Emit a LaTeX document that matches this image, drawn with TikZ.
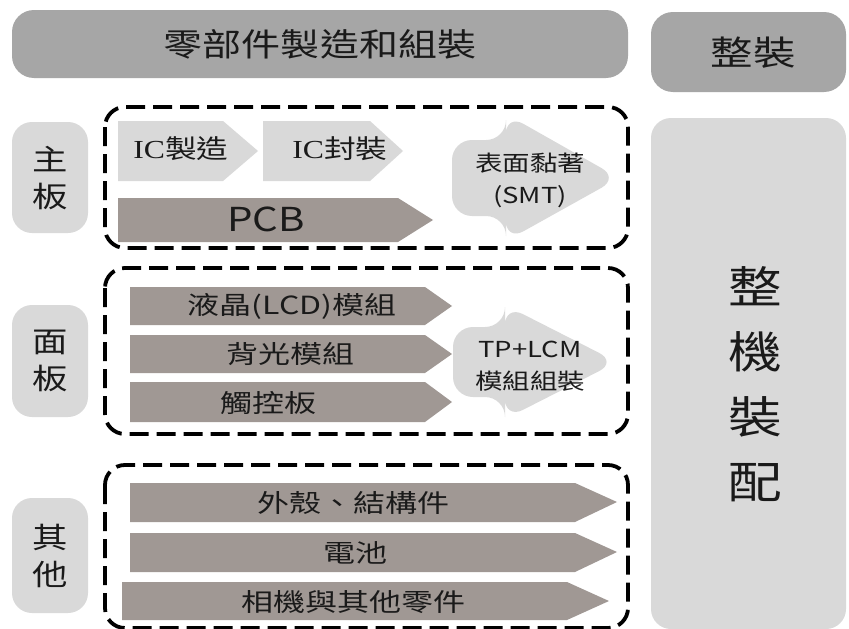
\documentclass[tikz,border=0pt]{standalone}
\usepackage{fontspec}
\setmainfont{Noto Sans CJK TC}
\newfontfamily\icfont{Liberation Serif}
\usepackage{graphicx}
\newcommand\sx[2][1.22]{\scalebox{#1}[1]{#2}}
\definecolor{bannergray}{HTML}{A6A6A6}
\definecolor{lightgray}{HTML}{D9D9D9}
\definecolor{bargray}{HTML}{A09894}
\definecolor{txt}{HTML}{1A1A1A}
\begin{document}
\begin{tikzpicture}[x=1pt,y=-1pt,
  txtnode/.style={text=txt,inner sep=0pt,align=center},
  fs/.style={font=\fontsize{#1}{#1}\selectfont},
  lightbox/.style={fill=lightgray,rounded corners=20},
  lightarrow/.style={fill=lightgray},
  bararrow/.style={fill=bargray},
  dashbox/.style={draw=black,line width=3.8pt,dash pattern=on 19pt off 8pt,rounded corners=20}]
\useasboundingbox (0,0) rectangle (849,629);
\fill[white] (0,0) rectangle (849,629);

% top headers
\fill[bannergray,rounded corners=22] (12,10) rectangle (628,78);
\node[txtnode,fs=32] (banner) at (320,44) {\sx{零部件製造和組裝}};
\fill[bannergray,rounded corners=22] (651,12) rectangle (846,92);
\node[txtnode,fs=34] (zhengzhuang) at (753,53) {\sx[1.25]{整裝}};

% right big box
\fill[lightbox] (651,118) rectangle (846,629);
\node[txtnode,fs=44,align=center] (final) at (755,384) {\sx{整}\\[21pt]\sx{機}\\[21pt]\sx{裝}\\[21pt]\sx{配}};

% left labels
\fill[lightbox] (12,122) rectangle (88,233);
\node[txtnode,fs=29] (lmain) at (50,178) {\sx{主}\\[8pt]\sx{板}};
\fill[lightbox] (12,305) rectangle (88,417);
\node[txtnode,fs=29] (lpanel) at (50,361) {\sx{面}\\[8pt]\sx{板}};
\fill[lightbox] (12,498) rectangle (88,613);
\node[txtnode,fs=29] (lother) at (50,556) {\sx{其}\\[8pt]\sx{他}};

% box 1
\draw[dashbox] (105,107) rectangle (628,248);
\fill[lightarrow] (118,121) -- (223,121) -- (258,151) -- (223,181) -- (118,181) -- cycle;
\node[txtnode,fs=26] (icmfg) at (181,149) {\sx{{\icfont IC}製造}};
\fill[lightarrow] (263,121) -- (370,121) -- (403,151) -- (370,181) -- (263,181) -- cycle;
\node[txtnode,fs=26] (icpkg) at (340,149) {\sx{{\icfont IC}封裝}};
\fill[bararrow] (118,198) -- (398,198) -- (433,220) -- (398,242) -- (118,242) -- cycle;
\node[txtnode,fs=33] (pcb) at (266,219) {\sx{PCB}};
\fill[lightarrow,rounded corners=20] (452,140) -- (506,140) -- (506,114) -- (619,178) -- (506,241) -- (506,216) -- (452,216) -- cycle;
\fill[lightarrow] (475,150) rectangle (540,205);
\node[txtnode,fs=22] (smt) at (530,180) {\sx[1.25]{表面黏著}\\[10pt]\sx[1.25]{(SMT)}};

% box 2
\draw[dashbox] (105,268) rectangle (628,434);
\fill[bararrow] (130,287) -- (425,287) -- (452,306) -- (425,325) -- (130,325) -- cycle;
\node[txtnode,fs=25] (lcd) at (292,306) {\sx[1.28]{液晶(LCD)模組}};
\fill[bararrow] (130,335) -- (425,335) -- (452,354) -- (425,373) -- (130,373) -- cycle;
\node[txtnode,fs=25] (backlight) at (290,354) {\sx[1.28]{背光模組}};
\fill[bararrow] (130,382) -- (425,382) -- (452,402) -- (425,422) -- (130,422) -- cycle;
\node[txtnode,fs=25] (touch) at (268,403) {\sx[1.28]{觸控板}};
\fill[lightarrow,rounded corners=20] (453,327) -- (505,327) -- (505,305) -- (617,362) -- (505,419) -- (505,397) -- (453,397) -- cycle;
\node[txtnode,fs=22] (tplcm) at (530,366) {\sx[1.25]{TP+LCM}\\[10pt]\sx[1.25]{模組組裝}};

% box 3
\draw[dashbox] (105,465) rectangle (628,628);
\fill[bararrow] (130,483) -- (575,483) -- (617,502) -- (575,522) -- (130,522) -- cycle;
\node[txtnode,fs=25] (shell) at (353,503) {\sx[1.28]{外殼、結構件}};
\fill[bararrow] (130,533) -- (575,533) -- (617,552) -- (575,572) -- (130,572) -- cycle;
\node[txtnode,fs=25] (battery) at (355,553) {\sx[1.28]{電池}};
\fill[bararrow] (122,582) -- (567,582) -- (609,601) -- (567,620) -- (122,620) -- cycle;
\node[txtnode,fs=25] (camera) at (353,602) {\sx[1.28]{相機與其他零件}};
\end{tikzpicture}
\end{document}
